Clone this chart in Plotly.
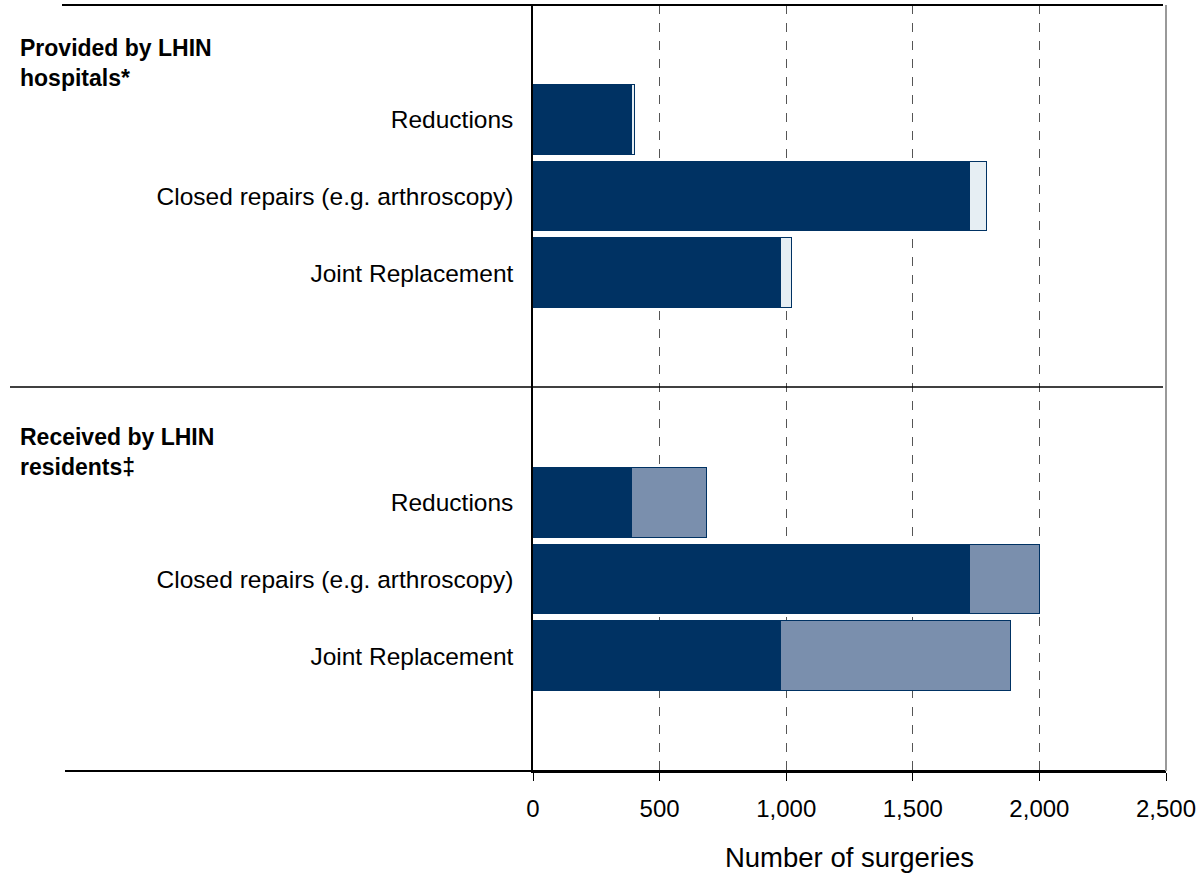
import plotly.graph_objects as go

# ---- data ----
categories = ["Reductions", "Closed repairs (e.g. arthroscopy)", "Joint Replacement"]
section_titles = ["<b>Provided by LHIN</b><br><b>hospitals*</b>", "<b>Received by LHIN</b><br><b>residents‡</b>"]
provided_residents = [391, 1726, 979]
provided_nonresidents = [12, 67, 44]
received_in_lhin = [391, 1726, 979]
received_outside = [296, 276, 909]
x_ticks = [0, 500, 1000, 1500, 2000, 2500]
x_ticktext = ["0", "500", "1,000", "1,500", "2,000", "2,500"]

DARK = "#003263"
PALE = "#E6EEF3"
MID = "#7A8FAD"
FONT = "Liberation Sans, Arial, sans-serif"

# slot positions: each section = header slot, 3 bar slots, blank slot
top_pos = [1, 2, 3]
bot_pos = [6, 7, 8]

fig = go.Figure()
bw = 0.91
line = dict(color=DARK, width=1.2)
fig.add_trace(go.Bar(y=top_pos, x=provided_residents, orientation="h", width=bw,
                     marker=dict(color=DARK, line=line), showlegend=False))
fig.add_trace(go.Bar(y=top_pos, x=provided_nonresidents, orientation="h", width=bw,
                     marker=dict(color=PALE, line=line), showlegend=False))
fig.add_trace(go.Bar(y=bot_pos, x=received_in_lhin, orientation="h", width=bw,
                     marker=dict(color=DARK, line=line), showlegend=False))
fig.add_trace(go.Bar(y=bot_pos, x=received_outside, orientation="h", width=bw,
                     marker=dict(color=MID, line=line), showlegend=False))

W, H = 1203, 896
L, R, T, B = 533, 37, 5, 125
pw = W - L - R
ph = H - T - B

def px_x(px):
    return (px - L) / pw

def px_y(py):
    return (H - B - py) / ph

fig.update_layout(
    width=W, height=H, barmode="stack",
    margin=dict(l=L, r=R, t=T, b=B),
    plot_bgcolor="white", paper_bgcolor="white",
    font=dict(family=FONT, size=24, color="black"),
    bargap=0,
)
fig.update_xaxes(range=[0, 2500], tickvals=x_ticks, ticktext=x_ticktext,
                 showgrid=True, gridcolor="#555555", griddash="dash", gridwidth=1,
                 zeroline=False, showline=True, linecolor="black", linewidth=2,
                 ticks="outside", ticklen=8, tickcolor="black",
                 tickfont=dict(size=24), ticklabelstandoff=7,
                 title=dict(text="Number of surgeries", font=dict(size=27.5), standoff=27))
fig.update_yaxes(range=[9.5, -0.5], tickvals=top_pos + bot_pos,
                 ticktext=categories + categories,
                 showgrid=False, zeroline=False, showline=True, linecolor="black",
                 linewidth=1.5, ticks="", ticklabelstandoff=13, tickfont=dict(size=24.5))

shapes = [
    dict(type="line", xref="paper", yref="paper", x0=px_x(62), x1=px_x(1163), y0=1, y1=1,
         line=dict(color="black", width=2)),
    dict(type="line", xref="paper", yref="paper", x0=px_x(10), x1=px_x(1163), y0=px_y(387), y1=px_y(387),
         line=dict(color="black", width=1.5)),
    dict(type="line", xref="paper", yref="paper", x0=px_x(65), x1=1, y0=0, y1=0,
         line=dict(color="black", width=2)),
    dict(type="line", xref="paper", yref="paper", x0=1, x1=1, y0=0, y1=1,
         line=dict(color="#999999", width=2)),
]
fig.update_layout(shapes=shapes)

for title, py in zip(section_titles, [63, 452]):
    fig.add_annotation(text=title, xref="paper", yref="paper", x=px_x(18), y=px_y(py),
                       xanchor="left", yanchor="middle", align="left", showarrow=False,
                       font=dict(size=23, family=FONT))

fig.write_html("out.html", config={"displayModeBar": False},
               post_script="document.body.style.margin='0';")
